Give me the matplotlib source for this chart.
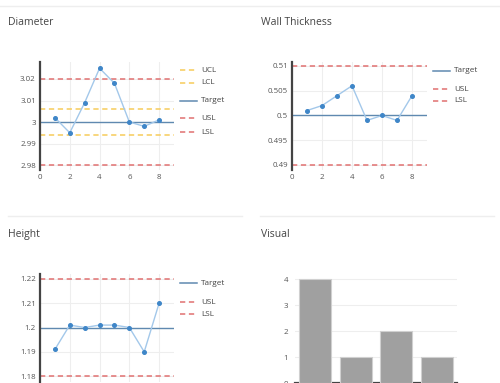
import matplotlib
matplotlib.use("Agg")
import matplotlib.pyplot as plt
from matplotlib.lines import Line2D

plt.rcParams['font.family'] = ['Open Sans', 'DejaVu Sans']
plt.rcParams['lines.scale_dashes'] = False

# ---------------- data ----------------
samples = [1, 2, 3, 4, 5, 6, 7, 8]

diameter = [3.002, 2.995, 3.009, 3.025, 3.018, 3.000, 2.998, 3.001]
diameter_target = 3.0
diameter_ucl = 3.006
diameter_lcl = 2.994
diameter_usl = 3.02
diameter_lsl = 2.98
diameter_ticks = [2.98, 2.99, 3.0, 3.01, 3.02]
diameter_ticklabels = ["2.98", "2.99", "3", "3.01", "3.02"]

wall = [0.501, 0.502, 0.504, 0.506, 0.499, 0.500, 0.499, 0.504]
wall_target = 0.5
wall_usl = 0.51
wall_lsl = 0.49
wall_ticks = [0.49, 0.495, 0.5, 0.505, 0.51]
wall_ticklabels = ["0.49", "0.495", "0.5", "0.505", "0.51"]

height = [1.191, 1.201, 1.200, 1.201, 1.201, 1.200, 1.190, 1.210]
height_target = 1.2
height_usl = 1.22
height_lsl = 1.18
height_ticks = [1.18, 1.19, 1.2, 1.21, 1.22]
height_ticklabels = ["1.18", "1.19", "1.2", "1.21", "1.22"]

visual_categories = ["A", "B", "C", "D"]
visual_counts = [4, 1, 2, 1]
visual_ticks = [0, 1, 2, 3, 4]

x_ticks = [0, 2, 4, 6, 8]

# ---------------- styling ----------------
W, H = 500, 383
fig = plt.figure(figsize=(W / 100, H / 100), dpi=100)
fig.patch.set_facecolor("white")

DATA_LINE = "#a3c8ea"
DATA_MARK = "#3f86c8"
TARGET = "#5f89b0"
SPEC = "#e07070"
CTRL = "#f7cc5a"
GRID = "#eeeeee"
AXIS = "#444444"
TEXT = "#444444"
TICK = "#555555"
DASH = (0, (3.8, 2.6))


def px_axes(x0, y0, x1, y1):
    return fig.add_axes([x0 / W, 1 - y1 / H, (x1 - x0) / W, (y1 - y0) / H])


def fx(px):
    return px / W


def fy(py):
    return 1 - py / H


def style_axes(ax, yticks, yticklabels, ylim, show_x=True):
    ax.set_xlim(0, 9)
    ax.set_ylim(*ylim)
    ax.set_xticks(x_ticks)
    ax.set_xticklabels([str(t) for t in x_ticks] if show_x else [])
    ax.set_yticks(yticks)
    ax.set_yticklabels(yticklabels)
    ax.grid(True, color=GRID, lw=0.8, zorder=0)
    for s in ["top", "right", "bottom"]:
        ax.spines[s].set_visible(False)
    ax.spines["left"].set_color(AXIS)
    ax.spines["left"].set_linewidth(1.6)
    ax.spines["left"].set_zorder(5)
    ax.tick_params(length=0, labelsize=5.7, labelcolor=TICK, pad=3)
    ax.set_axisbelow(True)


def plot_chart(ax, values, target, usl, lsl, ucl=None, lcl=None):
    ax.axhline(usl, color=SPEC, lw=1.1, ls=DASH, zorder=2)
    ax.axhline(lsl, color=SPEC, lw=1.1, ls=DASH, zorder=2)
    if ucl is not None:
        ax.axhline(ucl, color=CTRL, lw=1.1, ls=DASH, zorder=2)
        ax.axhline(lcl, color=CTRL, lw=1.1, ls=DASH, zorder=2)
    ax.axhline(target, color=TARGET, lw=1.0, zorder=3)
    ax.plot(samples, values, color=DATA_LINE, lw=1.0, zorder=4)
    ax.plot(samples, values, ls="none", marker="o", ms=2.6,
            color=DATA_MARK, zorder=4)


def legend(x0, entries):
    for label, y, color, dashed in entries:
        ln = Line2D([fx(x0), fx(x0 + 17)], [fy(y), fy(y)],
                    transform=fig.transFigure, color=color, lw=1.1,
                    ls=DASH if dashed else "-")
        fig.add_artist(ln)
        fig.text(fx(x0 + 21), fy(y), label, fontsize=5.9, color=TEXT,
                 va="center", ha="left")


def separator(x0, x1, y):
    fig.add_artist(Line2D([fx(x0), fx(x1)], [fy(y), fy(y)],
                          transform=fig.transFigure, color="#eeeeee", lw=1.0))


def title(x, y, s):
    fig.text(fx(x), fy(y), s, fontsize=7.5, color=TEXT, va="center", ha="left")


# separators
separator(0, 500, 5.5)
separator(8, 242, 215.5)
separator(260, 494, 215.5)

# ---- Diameter ----
title(8, 22.5, "Diameter")
ax1 = px_axes(40, 62, 174, 170)
style_axes(ax1, diameter_ticks, diameter_ticklabels, (2.9777, 3.0279))
plot_chart(ax1, diameter, diameter_target, diameter_usl, diameter_lsl,
           diameter_ucl, diameter_lcl)
legend(180, [("UCL", 70, CTRL, True), ("LCL", 82.7, CTRL, True),
             ("Target", 100.7, TARGET, False), ("USL", 118.3, SPEC, True),
             ("LSL", 132.3, SPEC, True)])

# ---- Wall Thickness ----
title(261, 22.5, "Wall Thickness")
ax2 = px_axes(292, 62, 427, 170)
style_axes(ax2, wall_ticks, wall_ticklabels, (0.48899, 0.5108))
plot_chart(ax2, wall, wall_target, wall_usl, wall_lsl)
legend(433, [("Target", 70.7, TARGET, False), ("USL", 89.3, SPEC, True),
             ("LSL", 100.7, SPEC, True)])

# ---- Height ---- (x tick labels fall below the visible frame)
title(8, 235, "Height")
ax3 = px_axes(40, 274, 174, 382)
style_axes(ax3, height_ticks, height_ticklabels, (1.1776, 1.222), show_x=False)
plot_chart(ax3, height, height_target, height_usl, height_lsl)
legend(180, [("Target", 283.3, TARGET, False), ("USL", 302, SPEC, True),
             ("LSL", 314, SPEC, True)])

# ---- Visual ----
title(261, 235, "Visual")
ax4 = px_axes(295, 274, 457, 383)
xpos = list(range(len(visual_categories)))
ax4.bar(xpos, visual_counts, width=0.8, color="#a0a0a0",
        edgecolor="#d0d0d0", lw=0.8, zorder=3)
ax4.set_xlim(-0.5, len(visual_categories) - 0.5)
ax4.set_ylim(0, 4.2)
ax4.set_yticks(visual_ticks)
ax4.set_yticklabels([str(t) for t in visual_ticks])
ax4.set_xticks(xpos)
ax4.set_xticklabels([])
ax4.grid(True, axis="y", color=GRID, lw=0.8, zorder=0)
for s in ["top", "right", "left"]:
    ax4.spines[s].set_visible(False)
ax4.spines["bottom"].set_color(AXIS)
ax4.spines["bottom"].set_linewidth(1.6)
ax4.tick_params(length=0, labelsize=5.7, labelcolor=TICK, pad=5)
ax4.set_axisbelow(True)

fig.savefig("out.png", dpi=100, facecolor="white")
